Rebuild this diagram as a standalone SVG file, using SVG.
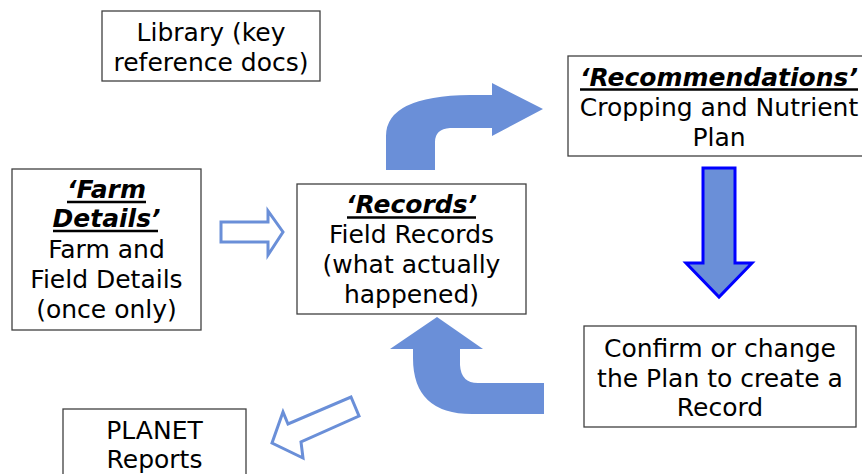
<svg xmlns="http://www.w3.org/2000/svg" width="862" height="474" viewBox="0 0 862 474">
<style>
.box{fill:#fff;stroke:#404040;stroke-width:1.3}
.t{font-family:"DejaVu Sans","Liberation Sans",sans-serif;font-size:25px;fill:#000;text-anchor:middle}
.h{font-weight:bold;font-style:italic}
.ul{stroke:#000;stroke-width:2.5}
.solid{fill:#6A8FD8}
.outline{fill:#fff;stroke:#6A8FD8;stroke-width:3;stroke-linejoin:miter}
</style>
<rect width="862" height="474" fill="#fff"/>
<g id="connectors">
<path class="solid" d="M386,170 L386,136 Q386,96 470,95 L492,95 L492,83 L543,109 L492,136 L492,128 L450,128 Q435,129 435,142 L435,170 Z"/>
<path fill="#6A8FD8" stroke="#0000FF" stroke-width="3" d="M703,168 L735,168 L735,263 L752,263 L719,297 L686,263 L703,263 Z"/>
<path class="solid" d="M544,383 L544,414 L472,414 Q413,414 413,358 L413,349 L390,349 L437,317 L483,349 L460,349 L460,365 Q461,383 478,383 Z"/>
<path class="outline" d="M221,222 L268,222 L268,211 L283,232 L268,255 L268,242 L221,242 Z"/>
<path class="outline" d="M272,443 L283,412 L288,424 L351,397 L359,416 L301,442 L303,458 Z"/>
</g>
<g id="library">
<rect class="box" x="102" y="11" width="218" height="70"/>
<text class="t" x="211" y="41">Library (key</text>
<text class="t" x="211" y="71">reference docs)</text>
</g>
<g id="recommendations">
<rect class="box" x="568" y="56" width="310" height="100"/>
<text class="t h" x="719" y="86">‘Recommendations’</text>
<line class="ul" x1="580" y1="89.5" x2="858" y2="89.5"/>
<text class="t" x="719" y="116">Cropping and Nutrient</text>
<text class="t" x="719" y="146">Plan</text>
</g>
<g id="farm-details">
<rect class="box" x="12" y="169" width="189" height="161"/>
<text class="t h" x="106.5" y="198">‘Farm</text>
<line class="ul" x1="67" y1="202" x2="146" y2="202"/>
<text class="t h" x="106.5" y="227">Details’</text>
<line class="ul" x1="53" y1="231" x2="158" y2="231"/>
<text class="t" x="106.5" y="258">Farm and</text>
<text class="t" x="106.5" y="288">Field Details</text>
<text class="t" x="106.5" y="318">(once only)</text>
</g>
<g id="records">
<rect class="box" x="297" y="184" width="229" height="130"/>
<text class="t h" x="411.5" y="213">‘Records’</text>
<line class="ul" x1="347" y1="217.5" x2="476" y2="217.5"/>
<text class="t" x="411.5" y="243">Field Records</text>
<text class="t" x="411.5" y="273">(what actually</text>
<text class="t" x="411.5" y="303">happened)</text>
</g>
<g id="confirm">
<rect class="box" x="584" y="326" width="272" height="101"/>
<text class="t" x="720" y="357">Confirm or change</text>
<text class="t" x="720" y="387">the Plan to create a</text>
<text class="t" x="720" y="416">Record</text>
</g>
<g id="planet">
<rect class="box" x="63" y="409" width="183" height="80"/>
<text class="t" x="154.5" y="439">PLANET</text>
<text class="t" x="154.5" y="468">Reports</text>
</g>
</svg>
